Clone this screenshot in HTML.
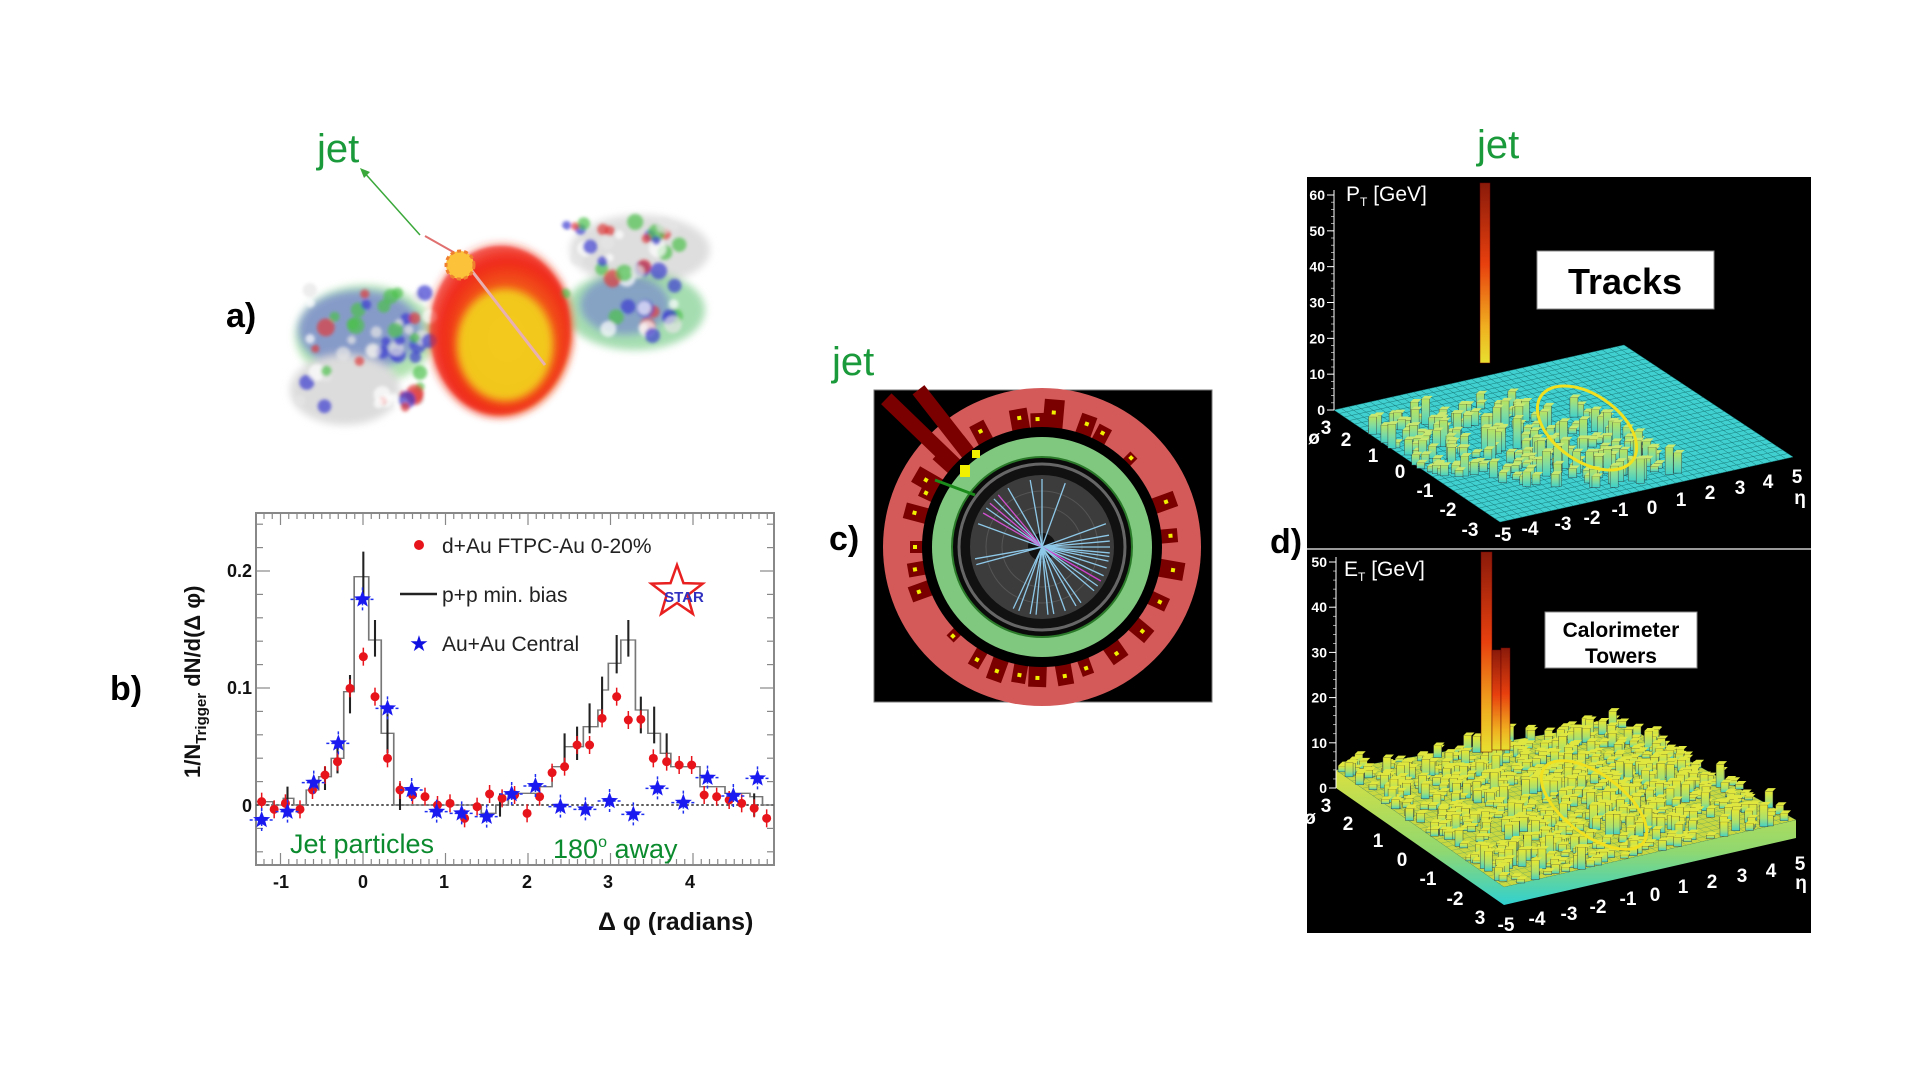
<!DOCTYPE html>
<html><head><meta charset="utf-8"><style>
html,body{margin:0;padding:0;background:#fff;}
svg{display:block}
text{font-family:"Liberation Sans",Arial,sans-serif}
</style></head><body>
<svg id="s" width="1920" height="1080" viewBox="0 0 1920 1080" xmlns="http://www.w3.org/2000/svg">
<defs>
<radialGradient id="fire" cx="0.55" cy="0.55" r="0.6">
<stop offset="0" stop-color="#e8f020"/><stop offset="0.45" stop-color="#f7c21a"/><stop offset="0.75" stop-color="#f02a14"/><stop offset="1" stop-color="#f02a14" stop-opacity="0"/></radialGradient>
<filter id="blur"><feGaussianBlur stdDeviation="4"/></filter>
<filter id="blur2"><feGaussianBlur stdDeviation="1.5"/></filter>
<linearGradient id="spk" x1="0" y1="0" x2="0" y2="1"><stop offset="0" stop-color="#8a1a0a"/><stop offset="0.45" stop-color="#e8400e"/><stop offset="0.8" stop-color="#f0b020"/><stop offset="1" stop-color="#e8e030"/></linearGradient>
<linearGradient id="bar" x1="0" y1="0" x2="0" y2="1"><stop offset="0" stop-color="#e8e830"/><stop offset="0.6" stop-color="#a8e070"/><stop offset="1" stop-color="#40d0c8"/></linearGradient>
<linearGradient id="bar2" x1="0" y1="0" x2="0" y2="1"><stop offset="0" stop-color="#b8e460"/><stop offset="0.5" stop-color="#80dca0"/><stop offset="1" stop-color="#40d0c8"/></linearGradient>
<linearGradient id="front" x1="0" y1="0" x2="0" y2="1"><stop offset="0" stop-color="#d8e040"/><stop offset="0.6" stop-color="#90d870"/><stop offset="1" stop-color="#30d0d0"/></linearGradient>
</defs>

<!-- Panel a -->
<g filter="url(#blur)">
<ellipse cx="365" cy="335" rx="70" ry="50" fill="#7fd07f" opacity="0.6"/>
<ellipse cx="360" cy="330" rx="62" ry="40" fill="#6a6ad8" opacity="0.6"/>
<ellipse cx="345" cy="390" rx="55" ry="35" fill="#dcdcdc"/>
<ellipse cx="640" cy="250" rx="70" ry="35" fill="#dedede"/>
<ellipse cx="635" cy="310" rx="70" ry="40" fill="#7fcf8f" opacity="0.7"/>
<ellipse cx="625" cy="305" rx="45" ry="30" fill="#6a6ad8" opacity="0.5"/>
<ellipse cx="500" cy="330" rx="73" ry="87" fill="url(#fire)"/>
</g>
<g id="abl" filter="url(#blur2)"></g>
<ellipse cx="500" cy="330" rx="70" ry="84" fill="#f0281a" opacity="0.6" filter="url(#blur2)"/>
<ellipse cx="505" cy="345" rx="48" ry="56" fill="#f3d31e" opacity="0.9" filter="url(#blur)"/>
<line x1="458" y1="253" x2="545" y2="365" stroke="#e8b0b0" stroke-width="3"/>
<line x1="420" y1="235" x2="362" y2="170" stroke="#3aa83a" stroke-width="1.5"/>
<polygon points="360,168 370,172 364,178" fill="#3aa83a"/>
<line x1="455" y1="253" x2="425" y2="236" stroke="#e07070" stroke-width="2"/>
<circle cx="460" cy="265" r="14" fill="#fbc23a" stroke="#f08030" stroke-width="3" stroke-dasharray="4 3"/>
<text x="317" y="162" font-size="40" fill="#1a9a3a">jet</text>
<text x="226" y="327" font-size="34" font-weight="bold" fill="#000">a)</text>

<!-- Panel b -->
<rect x="256" y="513" width="518" height="352" fill="none" stroke="#888" stroke-width="2"/>
<g id="bticks" stroke="#888" stroke-width="1.2"></g>
<g transform="translate(150,500) scale(0.41667,0.33333)" fill="none">
<line x1="255" y1="915" x2="1497" y2="915" stroke="#444" stroke-width="5" stroke-dasharray="6 6"/>
<path stroke="#777" stroke-width="4" d="M255 905 H295 V915 H320 V895 H345 V915 H375 V870 H405 V830 H435 V775 H465 V575 H490 V230 H525 V420 H555 V700 H585 V915 H795 V940 H830 V915 H860 V880 H935 V860 H965 V800 H995 V740 H1040 V680 H1075 V630 H1085 V570 H1100 V490 H1130 V420 H1165 V630 H1195 V700 H1225 V760 H1250 V800 H1290 V800 H1320 V860 H1380 V880 H1440 V890 H1470 V915 H1497"/>
<path stroke="#222" stroke-width="5" d="M512 155 V290 M540 360 V470 M570 640 V760 M480 525 V640 M450 720 V820 M420 800 V870 M1148 360 V470 M1120 405 V520 M1085 530 V650 M1055 610 V700 M1025 680 V780 M995 700 V800 M1178 590 V700 M1210 620 V730 M1240 700 V780 M600 850 V930 M330 860 V950 M840 880 V950 M1450 880 V950"/>
</g>
<g id="bpts"></g>
<text font-size="18" font-weight="bold" text-anchor="middle" fill="#111"><tspan x="281" y="888">-1</tspan><tspan x="363" y="888">0</tspan><tspan x="444" y="888">1</tspan><tspan x="527" y="888">2</tspan><tspan x="608" y="888">3</tspan><tspan x="690" y="888">4</tspan></text>
<text font-size="18" font-weight="bold" text-anchor="end" fill="#111"><tspan x="252" y="577">0.2</tspan><tspan x="252" y="694">0.1</tspan><tspan x="252" y="812">0</tspan></text>
<text x="598" y="930" font-size="25" font-weight="bold" fill="#111">Δ φ (radians)</text>
<text transform="translate(200,778) rotate(-90)" font-size="22" font-weight="bold" fill="#111">1/N<tspan font-size="15" dy="6">Trigger</tspan><tspan dy="-6"> dN/d(Δ φ)</tspan></text>
<circle cx="419" cy="545" r="5" fill="#e8141c"/>
<text x="442" y="553" font-size="21" fill="#222">d+Au FTPC-Au 0-20%</text>
<line x1="400" y1="594" x2="437" y2="594" stroke="#222" stroke-width="2.5"/>
<text x="442" y="602" font-size="21" fill="#222">p+p min. bias</text>
<text x="419" y="651" font-size="22" fill="#1010e0" text-anchor="middle">★</text>
<text x="442" y="651" font-size="21" fill="#222">Au+Au Central</text>
<polygon id="starlogo" fill="none" stroke="#e82020" stroke-width="2.5"/>
<text x="684" y="602" font-size="15" font-weight="bold" fill="#3030c0" text-anchor="middle">STAR</text>
<text x="290" y="853" font-size="27" fill="#0b8a2e">Jet particles</text>
<text x="553" y="858" font-size="27" fill="#0b8a2e">180<tspan font-size="16" dy="-11">o</tspan><tspan dy="11"> away</tspan></text>
<text x="110" y="700" font-size="34" font-weight="bold" fill="#000">b)</text>

<!-- Panel c -->
<rect x="874" y="390" width="338" height="312" fill="#000" stroke="#777" stroke-width="1"/>
<circle cx="1042" cy="547" r="159" fill="#d45a5a"/>
<g id="towers"></g>
<circle cx="1042" cy="547" r="120" fill="#000"/>
<circle cx="1042" cy="547" r="110" fill="#80c880"/>
<circle cx="1042" cy="547" r="90" fill="#0a0a0a" stroke="#2a7a2a" stroke-width="2"/>
<circle cx="1042" cy="547" r="83" fill="#111" stroke="#666" stroke-width="3"/>
<circle cx="1042" cy="547" r="72" fill="#3c3c3c"/>
<circle cx="1042" cy="547" r="40" fill="none" stroke="#555" stroke-width="1"/>
<circle cx="1042" cy="547" r="56" fill="none" stroke="#555" stroke-width="1"/>
<circle cx="1042" cy="547" r="14" fill="#111"/>
<g id="tracks"></g>
<text x="829" y="550" font-size="34" font-weight="bold" fill="#000">c)</text>
<text x="832" y="375" font-size="40" fill="#1a9a3a">jet</text>

<!-- Panel d -->
<rect x="1307" y="177" width="504" height="371" fill="#000"/>
<rect x="1307" y="550" width="504" height="383" fill="#000"/>
<line x1="1307" y1="549" x2="1811" y2="549" stroke="#999" stroke-width="2"/>
<g id="dtop"></g>
<g id="dbot"></g>
<rect x="1537" y="251" width="177" height="58" fill="#fff" stroke="#888"/>
<text x="1625" y="294" font-size="36" font-weight="bold" text-anchor="middle" fill="#000">Tracks</text>
<rect x="1545" y="612" width="152" height="56" fill="#fff" stroke="#888"/>
<text x="1621" y="637" font-size="21" font-weight="bold" text-anchor="middle" fill="#000">Calorimeter</text>
<text x="1621" y="663" font-size="21" font-weight="bold" text-anchor="middle" fill="#000">Towers</text>
<text x="1346" y="201" font-size="21" fill="#fff" font-family="Liberation Serif">P<tspan font-size="12" dy="5">T</tspan><tspan dy="-5"> [GeV]</tspan></text>
<text x="1344" y="576" font-size="21" fill="#fff" font-family="Liberation Serif">E<tspan font-size="12" dy="5">T</tspan><tspan dy="-5"> [GeV]</tspan></text>
<text x="1270" y="553" font-size="34" font-weight="bold" fill="#000">d)</text>
<text x="1477" y="158" font-size="40" fill="#1a9a3a">jet</text>
</svg>
<script>
var NS="http://www.w3.org/2000/svg";
function el(p,t,a){var e=document.createElementNS(NS,t);for(var k in a)e.setAttribute(k,a[k]);p.appendChild(e);return e;}
var seed=7;function rnd(){seed=(seed*16807)%2147483647;return seed/2147483647;}
(function(){
var ab=document.getElementById('abl');
var cols=['#ffffff','#e6e6e6','#4bc04b','#3a3ad0','#e03a3a'];
for(var i=0;i<60;i++){var x=300+rnd()*130,y=290+rnd()*120;el(ab,'circle',{cx:x,cy:y,r:4+rnd()*5,fill:cols[Math.floor(rnd()*5)],opacity:0.7});}
for(var i=0;i<50;i++){var x=560+rnd()*120,y=220+rnd()*120;el(ab,'circle',{cx:x,cy:y,r:4+rnd()*5,fill:cols[Math.floor(rnd()*5)],opacity:0.7});}
var bt=document.getElementById('bticks');
for(var v=-1.2;v<=4.95;v+=0.1){var x=363+82.5*v;var L=(Math.abs(v-Math.round(v))<0.01)?12:6;
el(bt,'line',{x1:x,y1:865,x2:x,y2:865-L});el(bt,'line',{x1:x,y1:513,x2:x,y2:513+L});}
for(var y=-0.04;y<=0.25;y+=0.02){var yy=805-1170*y;var L2=(Math.abs(y*10-Math.round(y*10))<0.01)?14:7;
el(bt,'line',{x1:256,y1:yy,x2:256+L2,y2:yy});el(bt,'line',{x1:774,y1:yy,x2:774-L2,y2:yy});}
})();
var bp=document.getElementById('bpts');
function PX(z){return z/2.4+150}function PY(z){return z/3+500}
var red=[[268,905],[298,928],[325,910],[360,928],[390,870],[420,825],[450,785],[480,565],[512,470],[540,590],[570,775],[600,870],[630,885],[660,890],[690,915],[720,910],[755,955],[785,920],[815,882],[845,895],[875,885],[905,940],[935,890],[965,818],[995,800],[1025,735],[1055,735],[1085,655],[1120,590],[1148,660],[1178,658],[1208,775],[1240,785],[1270,795],[1300,795],[1330,885],[1360,890],[1390,900],[1420,910],[1450,925],[1480,955]];
red.forEach(function(p){el(bp,'line',{x1:PX(p[0]),y1:PY(p[1])-9,x2:PX(p[0]),y2:PY(p[1])+9,stroke:'#e8141c','stroke-width':1.5});
el(bp,'circle',{cx:PX(p[0]),cy:PY(p[1]),r:4.5,fill:'#e8141c'});});
var blue=[[268,960],[330,935],[393,848],[452,730],[510,298],[570,625],[628,870],[688,935],[748,940],[808,950],[868,882],[925,858],[985,920],[1045,928],[1103,903],[1160,943],[1218,865],[1280,908],[1338,833],[1400,888],[1458,835]];
function star(cx,cy,R,r){var s='';for(var i=0;i<10;i++){var a=-Math.PI/2+i*Math.PI/5;var rr=i%2?r:R;s+=(cx+rr*Math.cos(a))+','+(cy+rr*Math.sin(a))+' ';}return s;}
blue.forEach(function(p){var x=PX(p[0]),y=PY(p[1]);
el(bp,'line',{x1:x-12,y1:y,x2:x+12,y2:y,stroke:'#2030f0','stroke-width':1.5,'stroke-dasharray':'3 2'});
el(bp,'line',{x1:x,y1:y-12,x2:x,y2:y+12,stroke:'#2030f0','stroke-width':1.5,'stroke-dasharray':'3 2'});
el(bp,'polygon',{points:star(x,y,9,3.8),fill:'#1a1af0'});});
document.getElementById('starlogo').setAttribute('points',star(677,592,27,11));
var tw=document.getElementById('towers');
var angs=[[-100,18,22],[-92,14,16],[-85,20,30],[-70,16,22],[-62,14,18],[-45,10,12],[-20,16,24],[-5,14,18],[10,18,26],[25,14,20],[40,16,22],[55,18,20],[70,12,18],[80,16,22],[92,18,22],[100,14,20],[110,16,24],[120,12,20],[135,10,12],[160,16,22],[170,14,18],[180,12,14],[195,16,24],[205,12,16],[-150,18,28],[-138,16,22],[-128,14,18],[-118,16,22]];
var ccx=1042,ccy=547;
angs.forEach(function(a){var g=el(tw,'g',{transform:'translate('+ccx+','+ccy+') rotate('+a[0]+')'});
el(g,'rect',{x:118,y:-a[1]/2,width:a[2],height:a[1],fill:'#7a0000'});
el(g,'rect',{x:118+a[2]*0.5,y:-2,width:4,height:4,fill:'#f0f000'});});
var g1=el(tw,'g',{transform:'translate('+ccx+','+ccy+') rotate(-136)'});
el(g1,'rect',{x:110,y:-9,width:105,height:15,fill:'#7a0000'});
var g2=el(tw,'g',{transform:'translate('+ccx+','+ccy+') rotate(-128)'});
el(g2,'rect',{x:110,y:-8,width:90,height:15,fill:'#7a0000'});
var tr=document.getElementById('tracks');
[-160,-150,-145,-140,-135,-130,-120,-100,-90,-70,-20,-10,-5,0,5,8,12,18,25,30,35,40,55,60,70,80,85,95,100,110,115,165,170].forEach(function(a,i){
var c=(a<-125&&a>-165&&i%2)?'#d050d0':'#8ec8e8';if(a>20&&a<40&&i%2)c='#d040d0';
var R=68;el(tr,'line',{x1:ccx,y1:ccy,x2:ccx+R*Math.cos(a*Math.PI/180),y2:ccy+R*Math.sin(a*Math.PI/180),stroke:c,'stroke-width':1.3});});
el(tr,'rect',{x:960,y:465,width:10,height:12,fill:'#f0f000'});el(tr,'rect',{x:972,y:450,width:8,height:8,fill:'#f0f000'});
el(tr,'line',{x1:935,y1:480,x2:975,y2:495,stroke:'#1a8a1a','stroke-width':3});
function lerp(a,b,t){return [a[0]+(b[0]-a[0])*t,a[1]+(b[1]-a[1])*t];}
function plane(gid,L,F,R,B,zero,top,topv,labs,ticks,H,dense){
var gp=document.getElementById(gid);
if(H){
el(gp,'polygon',{points:[L,F,R].map(function(p){return p[0]+','+p[1]}).join(' ')+' '+R[0]+','+(R[1]-H)+' '+F[0]+','+(F[1]-H)+' '+L[0]+','+(L[1]-H),fill:'url(#front)'});
el(gp,'polygon',{points:[L,F,R,B].map(function(p){return p[0]+','+(p[1]-H)}).join(' '),fill:'#c8d840'});
} else el(gp,'polygon',{points:[L,F,R,B].map(function(p){return p.join(',')}).join(' '),fill:'#40d0d0'});
var off=H||0;
for(var i=0;i<=40;i++){var a=lerp(L,B,i/40),b=lerp(F,R,i/40);el(gp,'line',{x1:a[0],y1:a[1]-off,x2:b[0],y2:b[1]-off,stroke:'#1a7a7a','stroke-width':0.5,opacity:H?0.4:1});}
for(var i=0;i<=32;i++){var a=lerp(L,F,i/32),b=lerp(B,R,i/32);el(gp,'line',{x1:a[0],y1:a[1]-off,x2:b[0],y2:b[1]-off,stroke:'#1a7a7a','stroke-width':0.5,opacity:H?0.4:1});}
var bars=[];
for(var k=0;k<dense;k++){var e=rnd(),p=rnd();
if(!H){ if(!(e<0.65 && p>0.2 && p<0.95 && (e+(1-p))<1.2 && (e+(1-p))>0.4))continue;}
var base=lerp(lerp(F,R,e),lerp(L,B,e),1-p);
bars.push([base[0],base[1]-off,H?(3+rnd()*rnd()*22):(5+rnd()*rnd()*30)]);}
bars.sort(function(a,b){return a[1]-b[1]});
bars.forEach(function(b){el(gp,'rect',{x:b[0]-4,y:b[1]-b[2],width:8,height:b[2],fill:H?'url(#bar)':'url(#bar2)',stroke:'#333','stroke-width':0.4});
el(gp,'polygon',{points:(b[0]-4)+','+(b[1]-b[2])+' '+(b[0]+4)+','+(b[1]-b[2])+' '+(b[0]+7)+','+(b[1]-b[2]-3)+' '+(b[0]-1)+','+(b[1]-b[2]-3),fill:H?'#e0e840':'#c8e870'});});
el(gp,'line',{x1:L[0],y1:zero,x2:L[0],y2:top-5,stroke:'#fff','stroke-width':1});
ticks.forEach(function(t){var yy=zero-(zero-top)*t/topv;el(gp,'line',{x1:L[0]-7,y1:yy,x2:L[0],y2:yy,stroke:'#fff'});
var tx=el(gp,'text',{x:L[0]-9,y:yy+5,'font-size':14,'font-weight':'bold',fill:'#fff','text-anchor':'end'});tx.textContent=t;});
for(var t=0;t<=topv;t+=2){var yy=zero-(zero-top)*t/topv;el(gp,'line',{x1:L[0]-3,y1:yy,x2:L[0],y2:yy,stroke:'#fff','stroke-width':0.6});}
labs.forEach(function(l){var tx=el(gp,'text',{x:l[0],y:l[1],'font-size':19,'font-weight':'bold',fill:'#fff','text-anchor':'middle'});tx.textContent=l[2];});
}
plane('dtop',[1334,410],[1500,522],[1793,457],[1624,345],410,195,60,
[[1326,434,'3'],[1346,446,'2'],[1373,462,'1'],[1400,478,'0'],[1425,497,'-1'],[1448,516,'-2'],[1470,536,'-3'],[1503,541,'-5'],[1530,535,'-4'],[1563,530,'-3'],[1592,524,'-2'],[1620,516,'-1'],[1652,514,'0'],[1681,506,'1'],[1710,499,'2'],[1740,494,'3'],[1768,488,'4'],[1797,483,'5'],[1800,504,'η'],[1314,444,'ø']],
[0,10,20,30,40,50,60],0,600);
plane('dbot',[1336,788],[1504,905],[1796,838],[1619,740],788,562,50,
[[1326,812,'3'],[1348,830,'2'],[1378,847,'1'],[1402,866,'0'],[1428,885,'-1'],[1455,905,'-2'],[1480,924,'3'],[1506,931,'-5'],[1537,925,'-4'],[1569,920,'-3'],[1598,913,'-2'],[1628,905,'-1'],[1655,901,'0'],[1683,893,'1'],[1712,888,'2'],[1742,882,'3'],[1771,877,'4'],[1800,870,'5'],[1801,889,'η'],[1310,824,'ø']],
[0,10,20,30,40,50],18,800);
var d=document.getElementById('dtop');
el(d,'rect',{x:1480,y:183,width:10,height:180,fill:'url(#spk)',stroke:'#600','stroke-width':0.5});
el(d,'ellipse',{cx:1587,cy:428,rx:56,ry:33,transform:'rotate(35 1587 428)',fill:'none',stroke:'#f0e020','stroke-width':3});
var db=document.getElementById('dbot');
el(db,'rect',{x:1481,y:552,width:11,height:200,fill:'url(#spk)',stroke:'#600','stroke-width':0.5});
el(db,'rect',{x:1492,y:650,width:9,height:100,fill:'url(#spk)',stroke:'#600','stroke-width':0.5});
el(db,'rect',{x:1501,y:648,width:9,height:102,fill:'url(#spk)',stroke:'#600','stroke-width':0.5});
el(db,'ellipse',{cx:1594,cy:805,rx:62,ry:30,transform:'rotate(37 1594 805)',fill:'none',stroke:'#f0e020','stroke-width':3});
</script>
</body></html>
